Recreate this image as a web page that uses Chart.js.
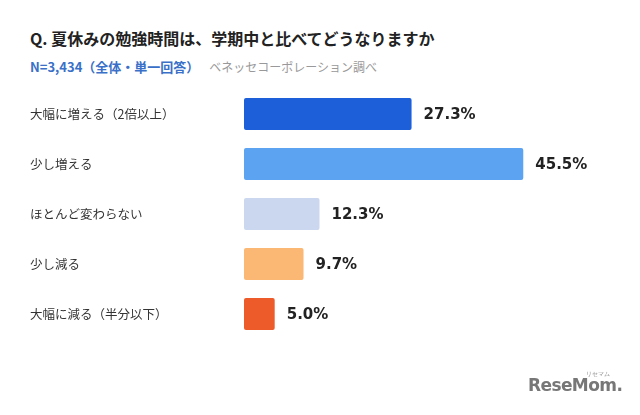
<!DOCTYPE html>
<html lang="ja">
<head>
<meta charset="utf-8">
<script src="https://cdn.jsdelivr.net/npm/chart.js@4/dist/chart.umd.min.js"></script>
<style>
  html, body { margin: 0; padding: 0; background: #fff; }
  body { width: 640px; height: 415px; position: relative; overflow: hidden;
         font-family: "Noto Sans CJK JP", "Noto Sans", sans-serif; }
  #title { position: absolute; left: 30px; top: 26px; font-size: 16px; font-weight: bold; color: #222; white-space: nowrap; }
  #sub { position: absolute; left: 30px; top: 57px; font-size: 12px; white-space: nowrap; }
  #sub .n { color: #3a70c8; font-weight: bold; font-size: 13px; }
  #sub .src { color: #999; margin-left: 10px; }
  #logo { position: absolute; left: 528px; top: 375px; font-family: "DejaVu Sans", sans-serif; font-weight: bold;
          font-size: 17px; color: #777; letter-spacing: -0.6px; }
  #logo small { position: absolute; left: 58px; top: -5px; font-size: 6px; font-weight: normal; color: #888; letter-spacing: 0; }
  #wrap { position: absolute; left: 0; top: 0; width: 640px; height: 415px; }
</style>
</head>
<body>
<div id="title">Q. 夏休みの勉強時間は、学期中と比べてどうなりますか</div>
<div id="sub"><span class="n">N=3,434（全体・単一回答）</span><span class="src">ベネッセコーポレーション調べ</span></div>
<div id="wrap"><canvas id="bar-chart"></canvas></div>
<div id="logo">ReseMom.<small>リセマム</small></div>
<script>
const categories = ['大幅に増える（2倍以上）', '少し増える', 'ほとんど変わらない', '少し減る', '大幅に減る（半分以下）'];
const values = [27.3, 45.5, 12.3, 9.7, 5.0];
const barColors = ['#1c5fd9', '#5ca3f2', '#cad7ee', '#fbb874', '#ee5b2b'];

// percent labels right of each bar
const valueLabels = {
  id: 'valueLabels',
  afterDatasetsDraw(chart) {
    const ctx = chart.ctx;
    const meta = chart.getDatasetMeta(0);
    ctx.save();
    ctx.font = 'bold 15px "DejaVu Sans", "Noto Sans", sans-serif';
    ctx.fillStyle = '#222';
    ctx.textBaseline = 'middle';
    meta.data.forEach((bar, i) => {
      ctx.fillText(values[i].toFixed(1) + '%', bar.x + 12, bar.y + 1);
    });
    ctx.restore();
  }
};

document.addEventListener("DOMContentLoaded", function () {
  const ctx = document.getElementById("bar-chart").getContext("2d");
  new Chart(ctx, {
    type: "bar",
    data: {
      labels: categories,
      datasets: [{
        data: values,
        backgroundColor: barColors,
        borderRadius: 2,
        borderSkipped: false,
        categoryPercentage: 1,
        barPercentage: 0.64,
      }],
    },
    options: {
      indexAxis: 'y',
      responsive: true,
      maintainAspectRatio: false,
      animation: false,
      layout: { padding: { left: 30, right: 40, top: 89, bottom: 76 } },
      plugins: { legend: { display: false }, tooltip: { enabled: false } },
      scales: {
        x: { display: false, min: 0, max: 58 },
        y: {
          grid: { display: false },
          border: { display: false },
          afterFit: (axis) => { axis.width = 214; },
          ticks: {
            crossAlign: 'far',
            color: '#333',
            font: { size: 12.5, family: '"Noto Sans CJK JP", sans-serif' },
          },
        },
      },
    },
    plugins: [valueLabels],
  });
});
</script>
</body>
</html>
